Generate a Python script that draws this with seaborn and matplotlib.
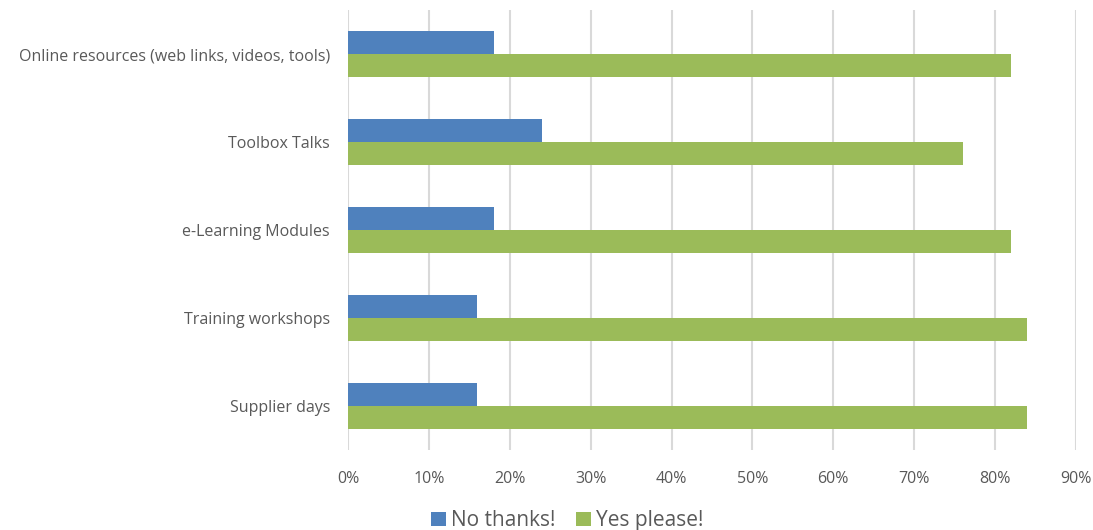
import matplotlib
matplotlib.use("Agg")
import matplotlib.pyplot as plt
import seaborn as sns
import pandas as pd
from matplotlib.ticker import PercentFormatter

categories = ["Online resources (web links, videos, tools)", "Toolbox Talks",
              "e-Learning Modules", "Training workshops", "Supplier days"]
no_thanks = [18, 24, 18, 16, 16]
yes_please = [82, 76, 82, 84, 84]
series = ["No thanks!", "Yes please!"]
ticks = list(range(0, 91, 10))

df = pd.DataFrame({
    "cat": categories * 2,
    "val": no_thanks + yes_please,
    "series": [series[0]] * len(categories) + [series[1]] * len(categories),
})

sns.set_theme(style="white")
plt.rcParams['font.family'] = ['Open Sans', 'DejaVu Sans']

fig = plt.figure(figsize=(10.93, 5.30), dpi=100)
ax = fig.add_axes([0.3184, 0.151, 0.6660, 0.830])
sns.barplot(data=df, y="cat", x="val", hue="series", hue_order=series,
            order=categories, orient="h", width=0.52, saturation=1,
            palette=["#4F81BD", "#9BBB59"], ax=ax, legend=True,
            linewidth=0, edgecolor="none")

ax.set_xlim(0, 90)
ax.set_ylim(4.5, -0.5)
ax.set_xticks(ticks)
ax.xaxis.set_major_formatter(PercentFormatter(decimals=0))
ax.grid(axis="x", color="#D9D9D9", linewidth=1.5)
ax.set_axisbelow(True)
for s in ax.spines.values():
    s.set_visible(False)
ax.set_xlabel("")
ax.set_ylabel("")
ax.tick_params(axis="both", length=0, labelsize=11.5, colors="#595959")
ax.tick_params(axis="x", pad=15)
ax.tick_params(axis="y", pad=13)

handles, labels = ax.get_legend_handles_labels()
ax.legend_.remove()
fig.legend(handles, labels, loc="center", bbox_to_anchor=(0.519, 0.017),
           ncol=2, frameon=False, fontsize=15, handlelength=0.7,
           handleheight=0.7, handletextpad=0.25, columnspacing=1.0,
           labelcolor="#595959")

fig.savefig("out.png", dpi=100)
